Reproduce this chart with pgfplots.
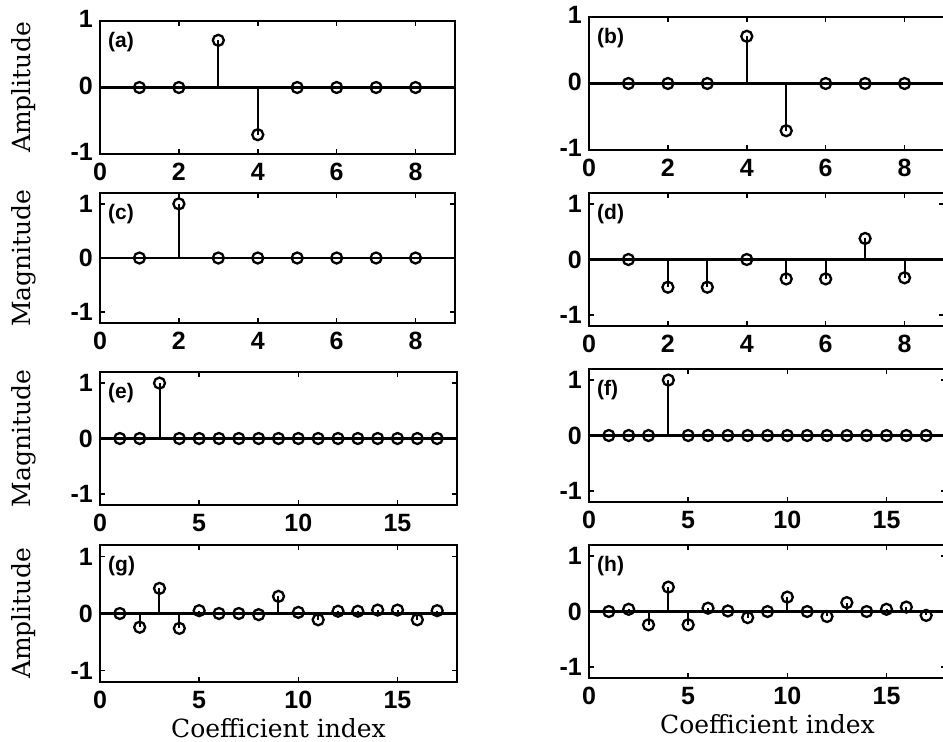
\documentclass[border=0pt]{standalone}
\usepackage{fontspec}
\setsansfont{Liberation Sans}
\newfontfamily\labelfont{DejaVu Serif}
\usepackage{pgfplots}
\pgfplotsset{compat=1.18}

\tikzset{plabel/.style={anchor=north west, inner sep=0pt, font=\sffamily\bfseries\fontsize{21}{21}\selectfont}}

\pgfplotsset{
  stemax/.style={
    scale only axis,
    width=355pt,
    ymin=-1.2, ymax=1.2,
    ytick={-1,0,1}, yticklabels={-1,0,1},
    axis line style={line width=2.5pt},
    every tick/.style={line width=1.5pt, black},
    major tick length=5pt,
    tick align=inside,
    tick pos=both,
    /pgf/number format/assume math mode=true,
    ticklabel style={font=\sffamily\bfseries\fontsize{25}{25}\selectfont},
    yticklabel style={inner sep=0pt, xshift=-7pt},
    xticklabel style={inner sep=0pt, yshift=-9pt},
    ylabel style={font=\labelfont\fontsize{25}{25}\selectfont, at={(axis description cs:-0.214,0.5)}, anchor=center, rotate=0},
    xlabel style={font=\labelfont\fontsize{25}{25}\selectfont, at={(axis description cs:0.5,0)}, anchor=base, yshift=-55pt},
  },
  short/.style={xmin=0, xmax=9, xtick={0,2,4,6,8}},
  long/.style={xmin=0, xmax=18, xtick={0,5,10,15}},
  stem/.style={ycomb, black, line width=2pt, mark=o, mark size=5.5pt, mark options={line width=2.3pt, solid}},
  base/.style={black, line width=2.5pt, no marks},
}

\begin{document}
\begin{tikzpicture}
\path[use as bounding box] (0pt,0pt) rectangle (943pt,-742pt);

% (a)
\begin{axis}[stemax, short, at={(100pt,-154pt)}, anchor=south west, height=133pt,
  ymin=-1, ymax=1, ylabel={Amplitude}, yticklabel style={yshift=2pt}]
\addplot[base] coordinates {(0,0) (9,0)};
\addplot[stem] coordinates {(1,0) (2,0) (3,0.71) (4,-0.71) (5,0) (6,0) (7,0) (8,0)};
\node[plabel] at (rel axis cs:0,1) [xshift=8pt, yshift=-11pt] {(a)};
\end{axis}

% (b)
\begin{axis}[stemax, short, at={(589pt,-150pt)}, anchor=south west, height=133pt,
  ymin=-1, ymax=1, yticklabel style={yshift=2pt}]
\addplot[base] coordinates {(0,0) (9,0)};
\addplot[stem] coordinates {(1,0) (2,0) (3,0) (4,0.71) (5,-0.71) (6,0) (7,0) (8,0)};
\node[plabel] at (rel axis cs:0,1) [xshift=8pt, yshift=-11pt] {(b)};
\end{axis}

% (c)
\begin{axis}[stemax, short, at={(100pt,-323pt)}, anchor=south west, height=130pt,
  ylabel={Magnitude}]
\addplot[base] coordinates {(0,0) (9,0)};
\addplot[stem] coordinates {(1,0) (2,1) (3,0) (4,0) (5,0) (6,0) (7,0) (8,0)};
\node[plabel] at (rel axis cs:0,1) [xshift=8pt, yshift=-11pt] {(c)};
\end{axis}

% (d)
\begin{axis}[stemax, short, at={(589pt,-326pt)}, anchor=south west, height=133pt]
\addplot[base] coordinates {(0,0) (9,0)};
\addplot[stem] coordinates {(1,0) (2,-0.5) (3,-0.5) (4,0) (5,-0.35) (6,-0.35) (7,0.38) (8,-0.33)};
\node[plabel] at (rel axis cs:0,1) [xshift=8pt, yshift=-11pt] {(d)};
\end{axis}

% (e)
\begin{axis}[stemax, long, at={(100pt,-505pt)}, anchor=south west, height=133pt, width=357pt,
  ylabel={Magnitude}]
\addplot[base] coordinates {(0,0) (18,0)};
\addplot[stem] coordinates {(1,0) (2,0) (3,1) (4,0) (5,0) (6,0) (7,0) (8,0) (9,0) (10,0) (11,0) (12,0) (13,0) (14,0) (15,0) (16,0) (17,0)};
\node[plabel] at (rel axis cs:0,1) [xshift=8pt, yshift=-11pt] {(e)};
\end{axis}

% (f)
\begin{axis}[stemax, long, at={(589pt,-502pt)}, anchor=south west, height=133pt, width=357pt]
\addplot[base] coordinates {(0,0) (18,0)};
\addplot[stem] coordinates {(1,0) (2,0) (3,0) (4,1) (5,0) (6,0) (7,0) (8,0) (9,0) (10,0) (11,0) (12,0) (13,0) (14,0) (15,0) (16,0) (17,0)};
\node[plabel] at (rel axis cs:0,1) [xshift=8pt, yshift=-11pt] {(f)};
\end{axis}

% (g)
\begin{axis}[stemax, long, at={(100pt,-682pt)}, anchor=south west, height=137pt, width=357pt,
  ylabel={Amplitude}, xlabel={Coefficient index}]
\addplot[base] coordinates {(0,0) (18,0)};
\addplot[stem] coordinates {(1,0) (2,-0.24) (3,0.44) (4,-0.26) (5,0.05) (6,0) (7,0) (8,-0.02) (9,0.3) (10,0.02) (11,-0.11) (12,0.04) (13,0.04) (14,0.06) (15,0.06) (16,-0.11) (17,0.05)};
\node[plabel] at (rel axis cs:0,1) [xshift=8pt, yshift=-11pt] {(g)};
\end{axis}

% (h)
\begin{axis}[stemax, long, at={(589pt,-678pt)}, anchor=south west, height=133pt, width=357pt,
  xlabel={Coefficient index}]
\addplot[base] coordinates {(0,0) (18,0)};
\addplot[stem] coordinates {(1,0) (2,0.04) (3,-0.24) (4,0.44) (5,-0.24) (6,0.06) (7,0.01) (8,-0.11) (9,0) (10,0.26) (11,0) (12,-0.09) (13,0.16) (14,0) (15,0.04) (16,0.08) (17,-0.07)};
\node[plabel] at (rel axis cs:0,1) [xshift=8pt, yshift=-11pt] {(h)};
\end{axis}

\end{tikzpicture}
\end{document}
